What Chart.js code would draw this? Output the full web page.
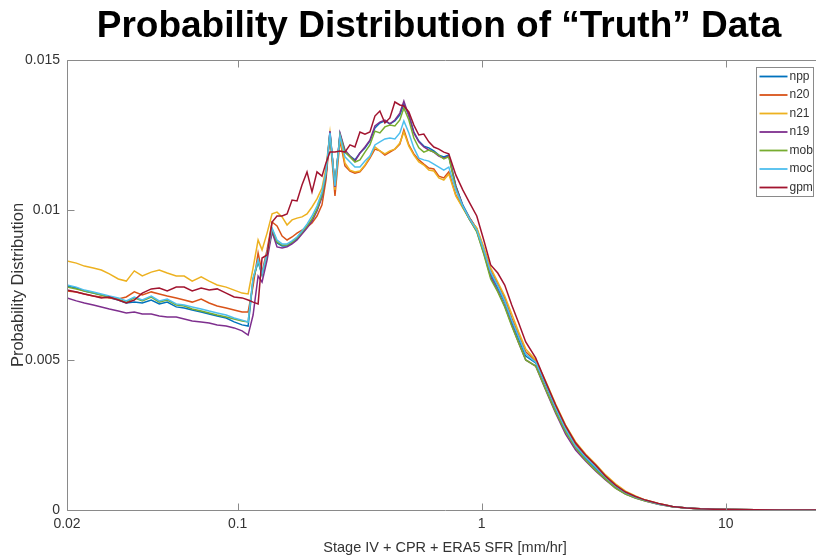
<!DOCTYPE html>
<html><head><meta charset="utf-8">
<script src="https://cdn.jsdelivr.net/npm/chart.js@4.4.1/dist/chart.umd.min.js"></script>
<style>
html,body{margin:0;padding:0;background:#fff;overflow:hidden;width:816px;height:559px}
#wrap{position:absolute;left:0;top:0;width:878px;height:559px}
</style></head><body>
<div id="wrap"><canvas id="c" width="878" height="559"></canvas></div>
<script>
const xValues = [0.02,0.02185,0.02356,0.02564,0.02765,0.02982,0.03245,0.03499,0.03773,0.04068,0.04429,0.04775,0.05148,0.05604,0.06042,0.06515,0.07091,0.07644,0.08246,0.08974,0.09676,0.1043,0.1104,
0.1157,0.1213,0.1259,0.1320,0.1384,0.1450,0.1521,0.1594,0.1671,0.1751,0.1835,0.1924,0.2017,0.2114,0.2216,0.2301,0.2389,0.2505,0.2626,0.2752,
0.2885,0.3024,0.3170,0.3323,0.3483,0.3651,0.3826,0.4011,0.4204,0.4407,0.4619,0.4797,0.5028,0.5271,0.5524,0.5791,0.6070,0.6364,0.6671,0.6992,0.7328,
0.7830,0.8361,0.8932,0.9541,1.019,1.088,1.163,1.242,1.327,1.417,1.514,
1.663,1.827,2.008,2.206,2.424,2.663,2.926,3.215,3.532,3.881,4.264,4.685,5.297,6.041,6.894,7.865,9.060,10.94,13.20,16.71,21.14,25];

const npp = [0.00747,0.00740,0.00730,0.00723,0.00717,0.00707,0.00700,0.00690,0.00693,0.00690,0.00700,0.00687,0.00693,0.00677,0.00673,0.00667,0.00660,0.00653,0.00647,0.00640,0.00627,0.00617,0.00613,
0.00767,0.00827,0.00783,0.00850,0.00933,0.00890,0.00880,0.00880,0.00890,0.00903,0.00923,0.00943,0.00967,0.01000,0.01047,0.01117,0.01260,0.01080,0.01253,0.01193,
0.01180,0.01167,0.01190,0.01207,0.01230,0.01273,0.01290,0.01297,0.01287,0.01297,0.01317,0.01353,0.01317,0.01260,0.01230,0.01213,0.01207,0.01197,0.01183,0.01177,0.01183,
0.01080,0.01017,0.00973,0.00937,0.00867,0.00787,0.00740,0.00693,0.00627,0.00570,0.00513,
0.00490,0.00417,0.00337,0.00267,0.00210,0.00173,0.00140,0.00107,0.00077,0.00057,0.00043,0.00032,0.00020,0.00012,0.000067,0.00004,0.000023,0.000013,0.000007,0.000003,0.000002,0.000001];

const n20 = [0.00730,0.00727,0.00720,0.00713,0.00710,0.00707,0.00703,0.00710,0.00727,0.00717,0.00727,0.00720,0.00713,0.00707,0.00700,0.00693,0.00703,0.00690,0.00680,0.00673,0.00667,0.00660,0.00660,
0.00747,0.00857,0.00793,0.00867,0.00960,0.00947,0.00913,0.00900,0.00910,0.00923,0.00933,0.00943,0.00957,0.00980,0.01017,0.01100,0.01250,0.01047,0.01233,0.01147,
0.01130,0.01123,0.01127,0.01147,0.01173,0.01203,0.01197,0.01183,0.01193,0.01203,0.01220,0.01267,0.01217,0.01187,0.01167,0.01153,0.01140,0.01137,0.01113,0.01107,0.01127,
0.01050,0.01010,0.00973,0.00937,0.00870,0.00800,0.00753,0.00707,0.00640,0.00583,0.00527,
0.00497,0.00423,0.00343,0.00273,0.00217,0.00180,0.00147,0.00110,0.00080,0.00060,0.00043,0.00033,0.00021,0.00012,0.00007,0.00004,0.000023,0.000013,0.000007,0.000003,0.000002,0.000001];

const n21 = [0.00830,0.00823,0.00813,0.00807,0.00800,0.00787,0.00770,0.00763,0.00797,0.00780,0.00793,0.00800,0.00790,0.00780,0.00780,0.00763,0.00777,0.00763,0.00750,0.00743,0.00733,0.00723,0.00720,
0.00807,0.00900,0.00867,0.00923,0.00987,0.00993,0.00977,0.00950,0.00967,0.00973,0.00977,0.00987,0.01010,0.01037,0.01073,0.01140,0.01257,0.01067,0.01243,0.01157,
0.01133,0.01127,0.01130,0.01150,0.01177,0.01210,0.01197,0.01187,0.01197,0.01203,0.01223,0.01260,0.01213,0.01183,0.01160,0.01150,0.01133,0.01130,0.01107,0.01100,0.01120,
0.01047,0.01007,0.00967,0.00940,0.00877,0.00807,0.00760,0.00713,0.00653,0.00593,0.00537,
0.00500,0.00430,0.00353,0.00283,0.00227,0.00187,0.00153,0.00117,0.00087,0.00063,0.00047,0.00033,0.00022,0.00012,0.00007,0.00004,0.000023,0.000013,0.000007,0.000003,0.000002,0.000001];

const n19 = [0.00707,0.00697,0.00690,0.00683,0.00677,0.00670,0.00663,0.00657,0.00660,0.00653,0.00653,0.00647,0.00643,0.00643,0.00637,0.00630,0.00627,0.00623,0.00617,0.00613,0.00607,0.00597,0.00583,
0.00650,0.00780,0.00760,0.00833,0.00927,0.00877,0.00873,0.00877,0.00887,0.00900,0.00920,0.00940,0.00963,0.00997,0.01043,0.01113,0.01263,0.01077,0.01257,0.01200,
0.01180,0.01163,0.01190,0.01210,0.01233,0.01280,0.01293,0.01300,0.01287,0.01300,0.01323,0.01363,0.01313,0.01257,0.01227,0.01210,0.01200,0.01193,0.01180,0.01173,0.01180,
0.01080,0.01013,0.00967,0.00930,0.00857,0.00777,0.00730,0.00680,0.00617,0.00557,0.00500,
0.00480,0.00400,0.00323,0.00253,0.00200,0.00163,0.00130,0.00100,0.00073,0.00053,0.00040,0.00030,0.00019,0.00011,0.000063,0.000037,0.00002,0.000013,0.000007,0.000003,0.000002,0.000001];

const mob = [0.00743,0.00737,0.00730,0.00723,0.00717,0.00710,0.00703,0.00693,0.00707,0.00697,0.00710,0.00693,0.00700,0.00683,0.00680,0.00670,0.00663,0.00657,0.00650,0.00643,0.00637,0.00630,0.00627,
0.00770,0.00830,0.00787,0.00853,0.00937,0.00893,0.00883,0.00883,0.00893,0.00907,0.00927,0.00947,0.00970,0.01003,0.01050,0.01120,0.01253,0.01083,0.01250,0.01193,
0.01177,0.01160,0.01167,0.01193,0.01217,0.01263,0.01257,0.01277,0.01283,0.01280,0.01300,0.01340,0.01300,0.01240,0.01207,0.01193,0.01200,0.01193,0.01183,0.01170,0.01177,
0.01073,0.01010,0.00967,0.00927,0.00853,0.00770,0.00727,0.00677,0.00613,0.00557,0.00500,
0.00480,0.00403,0.00327,0.00260,0.00207,0.00167,0.00133,0.00103,0.00073,0.00053,0.00040,0.00030,0.00019,0.00011,0.000063,0.000037,0.00002,0.000013,0.000007,0.000003,0.000002,0.000001];

const moc = [0.00750,0.00743,0.00733,0.00727,0.00720,0.00713,0.00707,0.00697,0.00710,0.00700,0.00713,0.00697,0.00703,0.00687,0.00683,0.00677,0.00670,0.00663,0.00657,0.00650,0.00640,0.00633,0.00627,
0.00773,0.00833,0.00787,0.00857,0.00940,0.00900,0.00887,0.00887,0.00897,0.00910,0.00930,0.00953,0.00980,0.01013,0.01060,0.01127,0.01257,0.01080,0.01247,0.01177,
0.01160,0.01143,0.01143,0.01163,0.01180,0.01217,0.01227,0.01237,0.01240,0.01237,0.01257,0.01297,0.01257,0.01207,0.01173,0.01167,0.01163,0.01153,0.01143,0.01133,0.01143,
0.01067,0.01013,0.00970,0.00933,0.00867,0.00793,0.00747,0.00697,0.00633,0.00577,0.00520,
0.00493,0.00420,0.00340,0.00270,0.00213,0.00177,0.00143,0.00110,0.00080,0.00058,0.00043,0.00032,0.00020,0.00012,0.000067,0.00004,0.000023,0.000013,0.000007,0.000003,0.000002,0.000001];

const gpm = [0.00733,0.00727,0.00720,0.00713,0.00707,0.00710,0.00700,0.00690,0.00700,0.00723,0.00737,0.00740,0.00730,0.00743,0.00743,0.00730,0.00740,0.00733,0.00737,0.00723,0.00710,0.00707,0.00700,
0.00693,0.00687,0.00840,0.00850,0.00960,0.00980,0.00980,0.00987,0.01033,0.01030,0.01083,0.01127,0.01060,0.01127,0.01113,0.01157,0.01193,0.01193,0.01197,0.01193,
0.01217,0.01210,0.01260,0.01253,0.01260,0.01313,0.01330,0.01290,0.01307,0.01360,0.01350,0.01347,0.01327,0.01283,0.01250,0.01253,0.01227,0.01210,0.01203,0.01193,0.01187,
0.01117,0.01067,0.01023,0.00980,0.00900,0.00817,0.00790,0.00750,0.00683,0.00623,0.00560,
0.00507,0.00427,0.00350,0.00280,0.00223,0.00183,0.00150,0.00113,0.00083,0.00060,0.00045,0.00033,0.00022,0.00012,0.00007,0.00004,0.000023,0.000013,0.000007,0.000003,0.000002,0.000001];

const seriesNames = ['npp','n20','n21','n19','mob','moc','gpm'];
const seriesData = [npp, n20, n21, n19, mob, moc, gpm];
const seriesColors = ['#0072BD','#D95319','#EDB120','#7E2F8E','#77AC30','#4DBEEE','#A2142F'];
const xTickValues = [0.02, 0.1, 1, 10];
const xTickLabels = ['0.02','0.1','1','10'];
const yTickValues = [0, 0.005, 0.01, 0.015];
const yTickLabels = ['0','0.005','0.01','0.015'];

const FONT = "'Liberation Sans', Arial, sans-serif";
const AXIS_COLOR = '#8a8a8a';
const TEXT_COLOR = '#333333';

const datasets = seriesNames.map((name, i) => ({
  label: name,
  data: xValues.map((x, j) => ({x: x, y: seriesData[i][j]})),
  borderColor: seriesColors[i],
  backgroundColor: seriesColors[i],
  borderWidth: 1.5,
  pointRadius: 0,
  tension: 0,
  fill: false,
  order: seriesNames.length - i
}));

const decor = {
  id: 'decor',
  afterDraw(chart) {
    const ctx = chart.ctx;
    const a = chart.chartArea;
    const xs = chart.scales.x, ys = chart.scales.y;
    ctx.save();
    ctx.strokeStyle = AXIS_COLOR;
    ctx.lineWidth = 1;
    const L = Math.round(a.left) + 0.5, R = Math.round(a.right) + 0.5;
    const T = Math.round(a.top) + 0.5, B = Math.round(a.bottom) + 0.5;
    ctx.beginPath();
    ctx.moveTo(L, T); ctx.lineTo(R, T); ctx.lineTo(R, B); ctx.lineTo(L, B); ctx.closePath();
    ctx.stroke();
    const tl = 7;
    ctx.beginPath();
    xTickValues.forEach(v => {
      const px = Math.round(xs.getPixelForValue(v)) + 0.5;
      ctx.moveTo(px, B); ctx.lineTo(px, B - tl);
      ctx.moveTo(px, T); ctx.lineTo(px, T + tl);
    });
    yTickValues.forEach(v => {
      const py = Math.round(ys.getPixelForValue(v)) + 0.5;
      ctx.moveTo(L, py); ctx.lineTo(L + tl, py);
      ctx.moveTo(R, py); ctx.lineTo(R - tl, py);
    });
    ctx.stroke();

    // legend box (northeast, inside axes)
    const rowH = 18.5, boxW = 57, boxH = 129;
    const bx = Math.round(a.right - 10 - boxW) + 0.5, by = Math.round(a.top + 7) + 0.5;
    ctx.fillStyle = '#ffffff';
    ctx.fillRect(bx, by, boxW, boxH);
    ctx.strokeStyle = AXIS_COLOR;
    ctx.strokeRect(bx, by, boxW, boxH);
    ctx.font = '12px ' + FONT;
    ctx.textBaseline = 'middle';
    ctx.textAlign = 'left';
    chart.data.datasets.forEach((ds, i) => {
      const cy = by + 9 + rowH * i;
      ctx.strokeStyle = ds.borderColor;
      ctx.lineWidth = 1.8;
      ctx.beginPath();
      ctx.moveTo(bx + 3, cy); ctx.lineTo(bx + 31, cy);
      ctx.stroke();
      ctx.fillStyle = TEXT_COLOR;
      ctx.fillText(ds.label, bx + 33, cy);
    });
    ctx.restore();
  }
};

new Chart(document.getElementById('c'), {
  type: 'line',
  data: { datasets },
  plugins: [decor],
  options: {
    responsive: false,
    animation: false,
    events: [],
    layout: { padding: 0 },
    plugins: {
      legend: { display: false },
      tooltip: { enabled: false },
      title: {
        display: true,
        text: 'Probability Distribution of \u201CTruth\u201D Data',
        color: '#000000',
        font: { family: FONT, size: 37, weight: 'bold', lineHeight: 1.2 },
        padding: { top: 5, bottom: 10.6 }
      }
    },
    scales: {
      x: {
        type: 'logarithmic',
        min: 0.02, max: 25,
        grid: { display: false, drawTicks: false },
        border: { display: false },
        afterBuildTicks: s => { s.ticks = xTickValues.map(v => ({ value: v })); },
        afterFit: s => { s.height = 49; },
        ticks: {
          autoSkip: false, maxRotation: 0, padding: 6,
          color: TEXT_COLOR, font: { family: FONT, size: 14 },
          callback: (v) => { const k = xTickValues.indexOf(v); return k >= 0 ? xTickLabels[k] : ''; }
        },
        title: {
          display: true, text: 'Stage IV + CPR + ERA5 SFR [mm/hr]',
          color: TEXT_COLOR, font: { family: FONT, size: 14.5 },
          padding: { top: 0, bottom: 2 }
        }
      },
      y: {
        type: 'linear',
        position: 'left',
        min: 0, max: 0.015,
        grid: { display: false, drawTicks: false },
        border: { display: false },
        afterBuildTicks: s => { s.ticks = yTickValues.map(v => ({ value: v })); },
        afterFit: s => { s.width = 67; },
        ticks: {
          padding: 7, color: TEXT_COLOR, font: { family: FONT, size: 14 },
          callback: (v) => { const k = yTickValues.indexOf(v); return k >= 0 ? yTickLabels[k] : ''; }
        },
        title: {
          display: true, text: 'Probability Distribution',
          color: TEXT_COLOR, font: { family: FONT, size: 16.5 },
          padding: { top: 9, bottom: 0 }
        }
      },
      yRight: {
        type: 'linear',
        position: 'right',
        display: true,
        min: 0, max: 0.015,
        grid: { display: false, drawTicks: false },
        border: { display: false },
        ticks: { display: false },
        afterFit: s => { s.width = 55; }
      }
    }
  }
});
</script>
</body></html>
